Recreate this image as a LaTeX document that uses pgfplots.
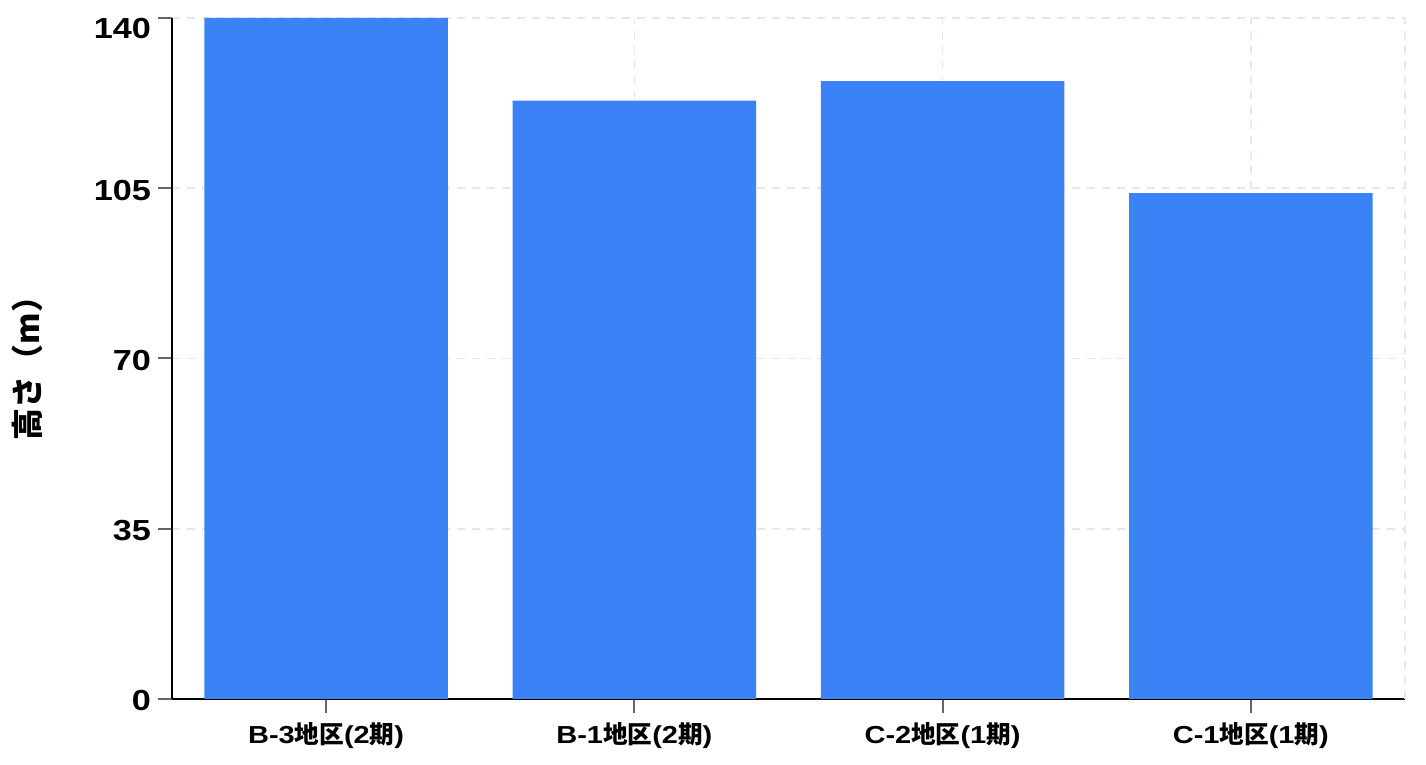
\documentclass[border=0pt]{standalone}
\usepackage{fontspec}
\setmainfont{Liberation Sans}[FakeStretch=1.18]
\newfontfamily\jp{Noto Sans CJK JP}
\usepackage{pgfplots}
\pgfplotsset{compat=1.18}
\definecolor{barblue}{HTML}{3B82F6}
\definecolor{gridc}{HTML}{E2E7F0}
\definecolor{tickc}{HTML}{666666}
\begin{document}
\begin{tikzpicture}
\useasboundingbox (-86pt,-33pt) rectangle (627pt,349.5pt);
\begin{axis}[
  scale only axis,
  width=616.5pt, height=340.5pt,
  xmin=-0.5, xmax=3.5, ymin=0, ymax=140,
  axis x line*=bottom, axis y line*=left,
  axis line style={black, line width=1pt},
  ytick={0,35,70,105,140},
  yticklabels={0,35,70,105,\raisebox{-4.5pt}[\height][\depth]{140}},
  xtick={0,1,2,3},
  xticklabels={{B-3{\jp\bfseries 地区}(2{\jp\bfseries 期})},{B-1{\jp\bfseries 地区}(2{\jp\bfseries 期})},{C-2{\jp\bfseries 地区}(1{\jp\bfseries 期})},{C-1{\jp\bfseries 地区}(1{\jp\bfseries 期})}},
  extra x ticks={3.5},
  extra x tick labels={},
  extra x tick style={major tick length=0pt, grid=major},
  tick align=outside,
  major tick length=7pt,
  tick style={tickc, line width=1pt},
  grid=major,
  major grid style={gridc, line width=0.8pt, dash pattern=on 4pt off 3.5pt},
  /pgf/number format/assume math mode=true,
  yticklabel style={font=\fontsize{14.5}{16}\selectfont\bfseries, xshift=0pt, yshift=-1pt},
  xticklabel style={font=\fontsize{12.3}{14}\selectfont\bfseries, yshift=-1pt},
  ylabel={{\jp\bfseries 高さ（m）}},
  ylabel style={at={(axis description cs:-0.117,0.497)}, anchor=center, font=\fontsize{16}{18}\selectfont},
  clip=false,
]
\addplot[ybar, bar width=0.79, fill=barblue, draw=none] coordinates {(0,140) (1,123) (2,127) (3,104)};
\end{axis}
\end{tikzpicture}
\end{document}
